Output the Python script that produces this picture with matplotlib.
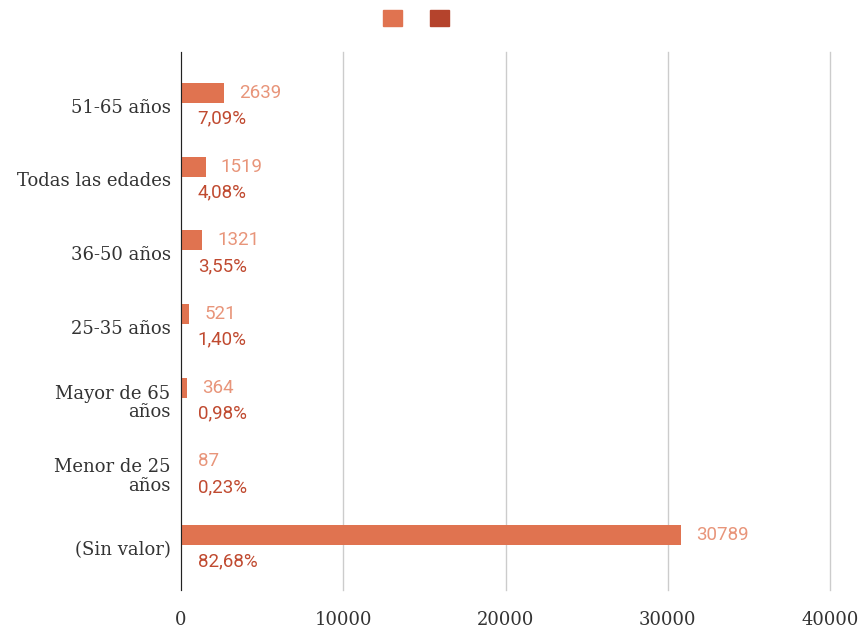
import matplotlib.pyplot as plt
import numpy as np

categories = ["51-65 años", "Todas las edades", "36-50 años", "25-35 años",
              "Mayor de 65\naños", "Menor de 25\naños", "(Sin valor)"]
counts = [2639, 1519, 1321, 521, 364, 87, 30789]
percents = ["7,09%", "4,08%", "3,55%", "1,40%", "0,98%", "0,23%", "82,68%"]
second_series = [0, 0, 0, 0, 0, 0, 0]
xticks = [0, 10000, 20000, 30000, 40000]

C_BAR = "#E07350"
C_DARK = "#B5432C"

fig = plt.figure(figsize=(8.67, 6.35), dpi=100)
ax = fig.add_axes([181 / 867, 1 - 590 / 635, (830 - 181) / 867, 538 / 635])

y = np.arange(len(categories))
h = 0.27
off = 0.175
b1 = ax.barh(y - off, counts, height=h, color=C_BAR, zorder=3)
b2 = ax.barh(y + off, second_series, height=h, color=C_DARK, zorder=3)

ax.bar_label(b1, labels=[str(c) for c in counts], padding=11,
             color="#E8957A", fontsize=13.5, family="Roboto")
ax.bar_label(b2, labels=percents, padding=12,
             color="#C04A30", fontsize=13.5, family="Roboto")

ax.set_ylim(len(categories) - 1 + 0.57, -0.73)
ax.set_xlim(0, 40000)
ax.set_yticks(y)
ax.set_yticklabels(categories, family="DejaVu Serif", fontsize=13,
                   color="#333333", ha="right", multialignment="right",
                   linespacing=1.05)
ax.set_xticks(xticks)
ax.set_xticklabels([str(t) for t in xticks], family="DejaVu Serif",
                   fontsize=13, color="#333333")
ax.tick_params(length=0)
ax.tick_params(axis="y", pad=7.5)
ax.tick_params(axis="x", pad=15)

ax.grid(axis="x", color="#CCCCCC", linewidth=1, zorder=0)
for line in ax.get_xgridlines():
    line.set_clip_on(False)
for s in ["top", "right", "bottom"]:
    ax.spines[s].set_visible(False)
ax.spines["left"].set_color("#222222")
ax.spines["left"].set_zorder(4)

# legend squares without text
handles = [plt.Rectangle((0, 0), 1, 1, color=C_BAR),
           plt.Rectangle((0, 0), 1, 1, color=C_DARK)]
fig.legend(handles, ["", ""], loc="center", bbox_to_anchor=(0.4815, 0.972),
           ncol=2, frameon=False, handlelength=1.4, handleheight=1.4,
           columnspacing=1.8, handletextpad=0.2)

fig.savefig("out.png", dpi=100)
